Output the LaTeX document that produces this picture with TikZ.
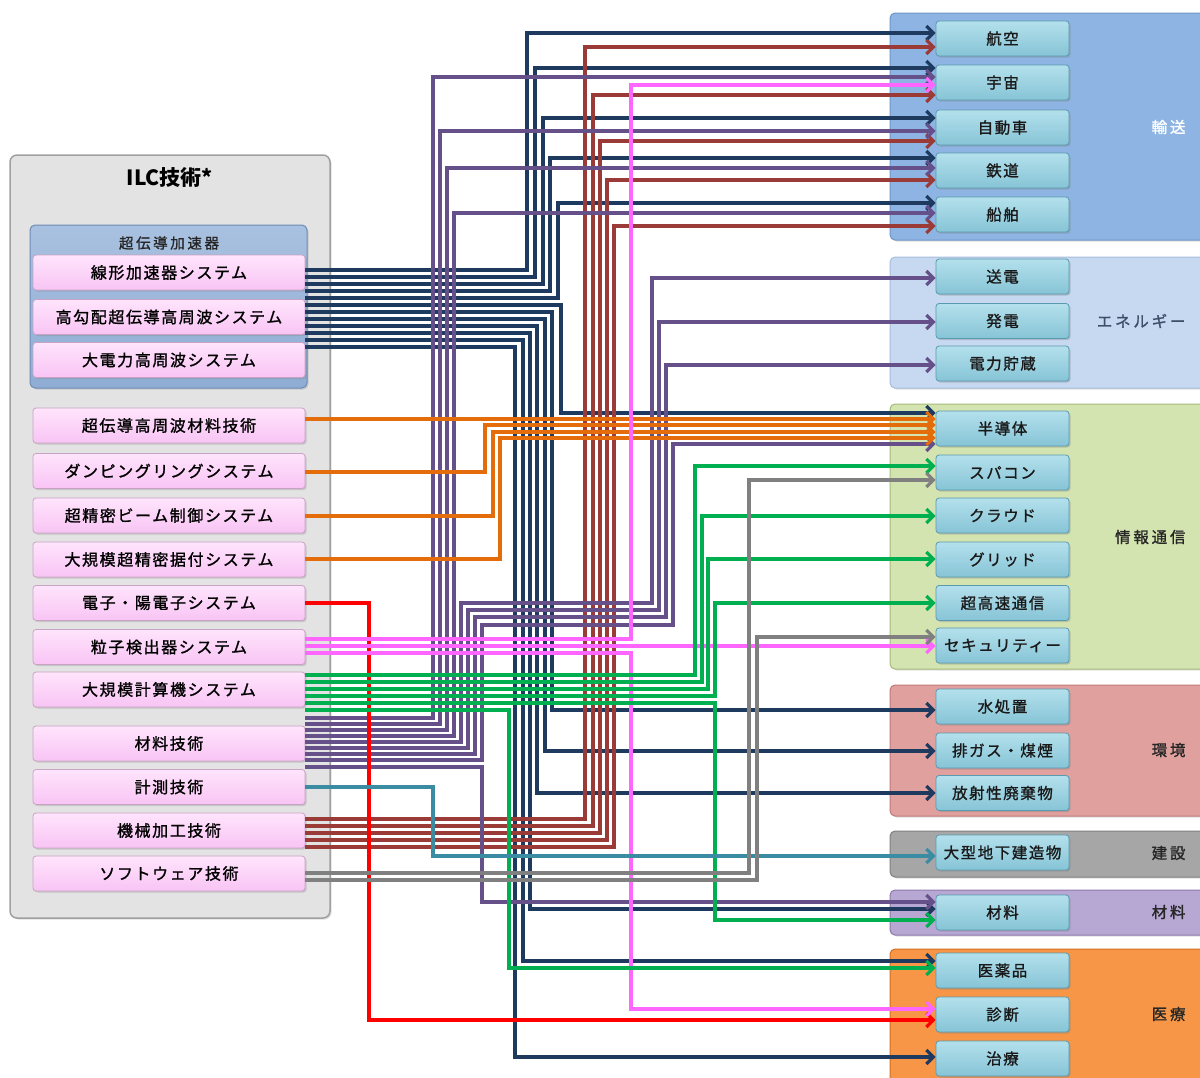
\documentclass[tikz,border=0pt]{standalone}
\usepackage{fontspec}
\newfontfamily\jp[LetterSpace=10,FakeBold=1.2]{Noto Sans CJK JP}
\newfontfamily\jpw[LetterSpace=18,FakeBold=1.2]{Noto Sans CJK JP}
\newfontfamily\jpt{Noto Sans CJK JP}
\usetikzlibrary{arrows.meta,shadows}
\definecolor{cnv}{HTML}{1E3A5F}
\definecolor{cdr}{HTML}{9B3B38}
\definecolor{cpu}{HTML}{65508A}
\definecolor{cor}{HTML}{E46C0A}
\definecolor{cgn}{HTML}{00B050}
\definecolor{cgy}{HTML}{808080}
\definecolor{ctl}{HTML}{3A8CA3}
\definecolor{cmg}{HTML}{FF66FF}
\definecolor{crd}{HTML}{FF0000}
\definecolor{pk1}{HTML}{FFE4FC}
\definecolor{pk2}{HTML}{F8C4F4}
\definecolor{pkb}{HTML}{C9A3C6}
\definecolor{it1}{HTML}{B4E0EC}
\definecolor{it2}{HTML}{86C4D6}
\definecolor{itb}{HTML}{5A9AB0}
\definecolor{g1f}{HTML}{8DB4E2}\definecolor{g1d}{HTML}{6E96C8}
\definecolor{g2f}{HTML}{C6D9F1}\definecolor{g2d}{HTML}{A5BDDC}
\definecolor{g3f}{HTML}{D4E4B0}\definecolor{g3d}{HTML}{A6BB7A}
\definecolor{g4f}{HTML}{E0A09E}\definecolor{g4d}{HTML}{C07A78}
\definecolor{g5f}{HTML}{A6A6A6}\definecolor{g5d}{HTML}{808080}
\definecolor{g6f}{HTML}{B7A7D3}\definecolor{g6d}{HTML}{8E7AAE}
\definecolor{g7f}{HTML}{F79646}\definecolor{g7d}{HTML}{D07020}
\definecolor{lpf}{HTML}{E3E3E3}\definecolor{lpd}{HTML}{A0A0A0}
\definecolor{ac1}{HTML}{A9C1E0}\definecolor{ac2}{HTML}{8FADD4}\definecolor{acd}{HTML}{6D8BB5}
\definecolor{enl}{HTML}{3B4F6B}
\begin{document}
\begin{tikzpicture}[x=1pt,y=-1pt,
  con/.style={line width=3.2pt,-{Straight Barb[length=7pt,width=14pt]}},
  pk/.style={draw=pkb,line width=0.8pt,rounded corners=3pt,top color=pk1,bottom color=pk2,
    minimum width=272pt,minimum height=35pt,inner sep=0pt,text=black,
    font=\jp\fontsize{16}{18}\selectfont,
    drop shadow={opacity=0.3,shadow xshift=1.5pt,shadow yshift=-1.5pt}},
  it/.style={draw=itb,line width=0.8pt,rounded corners=3pt,top color=it1,bottom color=it2,
    minimum width=133pt,minimum height=35pt,inner sep=0pt,text=black!90,
    font=\jp\fontsize{15.5}{17}\selectfont,
    drop shadow={opacity=0.35,shadow xshift=1.5pt,shadow yshift=-1.5pt}},
  grp/.style={line width=1pt,rounded corners=5pt,
    drop shadow={opacity=0.25,shadow xshift=1.5pt,shadow yshift=-1.5pt}},
  glab/.style={anchor=east,font=\jpw\fontsize{15.5}{17}\selectfont,text=black!85}]
\useasboundingbox (0,0) rectangle (1200,1077);
\fill[white] (0,0) rectangle (1200,1077);
% right group backgrounds
\draw[grp,draw=g1d,fill=g1f] (890,13) rectangle (1215,240);
\draw[grp,draw=g2d,fill=g2f] (890,257) rectangle (1215,388);
\draw[grp,draw=g3d,fill=g3f] (890,404) rectangle (1215,669);
\draw[grp,draw=g4d,fill=g4f] (890,685) rectangle (1215,816);
\draw[grp,draw=g5d,fill=g5f] (890,831) rectangle (1215,877);
\draw[grp,draw=g6d,fill=g6f] (890,890) rectangle (1215,935);
\draw[grp,draw=g7d,fill=g7f] (890,949) rectangle (1215,1095);
% left panel
\draw[grp,draw=lpd,fill=lpf,line width=1.5pt,rounded corners=7pt] (10,155) rectangle (330,918);
\node[font=\jpt\bfseries\fontsize{21}{24}\selectfont] (ttl) at (170,178) {ILC技術*};
\draw[grp,draw=acd,top color=ac1,bottom color=ac2] (30,225) rectangle (307,388);
\node[font=\jpw\fontsize{14.5}{16}\selectfont,text=black!85] (acc) at (169,243) {超伝導加速器};
% left boxes
\node[pk] (la) at (169,272.5) {線形加速器システム};
\node[pk] (hk) at (169,317) {高勾配超伝導高周波システム};
\node[pk] (dd) at (169,360) {大電力高周波システム};
\node[pk] (s1) at (169,425.5) {超伝導高周波材料技術};
\node[pk] (s2) at (169,471) {ダンピングリングシステム};
\node[pk] (s3) at (169,515.5) {超精密ビーム制御システム};
\node[pk] (s4) at (169,559.5) {大規模超精密据付システム};
\node[pk] (ep) at (169,603) {電子・陽電子システム};
\node[pk] (pd) at (169,647) {粒子検出器システム};
\node[pk] (cp) at (169,689.5) {大規模計算機システム};
\node[pk] (mt) at (169,743.5) {材料技術};
\node[pk] (ms) at (169,787) {計測技術};
\node[pk] (mc) at (169,830.5) {機械加工技術};
\node[pk] (sw) at (169,873.5) {ソフトウェア技術};
% right items
\node[it] (kk) at (1002.5,38.5) {航空};
\node[it] (uc) at (1002.5,82.5) {宇宙};
\node[it] (jd) at (1002.5,127.5) {自動車};
\node[it] (tt) at (1002.5,170.5) {鉄道};
\node[it] (sp) at (1002.5,214.5) {船舶};
\node[it] (sd) at (1002.5,276.5) {送電};
\node[it] (hd) at (1002.5,321) {発電};
\node[it] (cz) at (1002.5,363.5) {電力貯蔵};
\node[it] (hdt) at (1002.5,428.5) {半導体};
\node[it] (sc) at (1002.5,472.5) {スパコン};
\node[it] (cl) at (1002.5,515.5) {クラウド};
\node[it] (gr) at (1002.5,559.5) {グリッド};
\node[it] (ck) at (1002.5,603) {超高速通信};
\node[it] (se) at (1002.5,645.5) {セキュリティー};
\node[it] (ws) at (1002.5,706.5) {水処置};
\node[it] (hg) at (1002.5,750.5) {排ガス・煤煙};
\node[it] (hs) at (1002.5,793) {放射性廃棄物};
\node[it] (ug) at (1002.5,852.5) {大型地下建造物};
\node[it] (zr) at (1002.5,912.5) {材料};
\node[it] (iy) at (1002.5,970.5) {医薬品};
\node[it] (sn) at (1002.5,1014.5) {診断};
\node[it] (ch) at (1002.5,1058.5) {治療};
% group labels
\node[glab,text=white] (gl1) at (1189,127) {輸送};
\node[glab,text=enl] (gl2) at (1189,321) {エネルギー};
\node[glab] (gl3) at (1189,537) {情報通信};
\node[glab] (gl4) at (1189,750) {環境};
\node[glab] (gl5) at (1189,853) {建設};
\node[glab] (gl6) at (1189,912) {材料};
\node[glab] (gl7) at (1189,1014) {医療};
% navy connectors
\draw[con,cnv] (la.east|-0,270) -| (527,33) -- (kk.west|-0,33);
\draw[con,cnv] (la.east|-0,277) -| (535,68) -- (uc.west|-0,68);
\draw[con,cnv] (la.east|-0,284) -| (543,118) -- (jd.west|-0,118);
\draw[con,cnv] (la.east|-0,291) -| (550,158) -- (tt.west|-0,158);
\draw[con,cnv] (hk.east|-0,298) -| (558,203) -- (sp.west|-0,203);
\draw[con,cnv] (hk.east|-0,305) -| (561,413) -- (hdt.west|-0,413);
\draw[con,cnv] (hk.east|-0,312) -| (552,710) -- (ws.west|-0,710);
\draw[con,cnv] (hk.east|-0,319) -| (545,751) -- (hg.west|-0,751);
\draw[con,cnv] (hk.east|-0,326) -| (537,793) -- (hs.west|-0,793);
\draw[con,cnv] (hk.east|-0,333) -| (530,909) -- (zr.west|-0,909);
\draw[con,cnv] (dd.east|-0,340) -| (523,961) -- (iy.west|-0,961);
\draw[con,cnv] (dd.east|-0,347) -| (515,1057) -- (ch.west|-0,1057);
% dark red connectors
\draw[con,cdr] (mc.east|-0,819) -| (585,47) -- (kk.west|-0,47);
\draw[con,cdr] (mc.east|-0,826) -| (593,95) -- (uc.west|-0,95);
\draw[con,cdr] (mc.east|-0,833) -| (600,141) -- (jd.west|-0,141);
\draw[con,cdr] (mc.east|-0,840) -| (607,180) -- (tt.west|-0,180);
\draw[con,cdr] (mc.east|-0,847) -| (614,226) -- (sp.west|-0,226);
% purple connectors
\draw[con,cpu] (mt.east|-0,718) -| (433,77) -- (uc.west|-0,77);
\draw[con,cpu] (mt.east|-0,724) -| (440,131) -- (jd.west|-0,131);
\draw[con,cpu] (mt.east|-0,730) -| (447,168) -- (tt.west|-0,168);
\draw[con,cpu] (mt.east|-0,736) -| (454,213) -- (sp.west|-0,213);
\draw[con,cpu] (mt.east|-0,742) -| (461,603) -| (652,278) -- (sd.west|-0,278);
\draw[con,cpu] (mt.east|-0,748) -| (468,610) -| (659,322) -- (hd.west|-0,322);
\draw[con,cpu] (mt.east|-0,754) -| (475,617) -| (666,365) -- (cz.west|-0,365);
\draw[con,cpu] (mt.east|-0,760) -| (482,625) -| (673,444) -- (hdt.west|-0,444);
\draw[con,cpu] (mt.east|-0,767) -| (482,902) -- (zr.west|-0,902);
% orange connectors
\draw[con,cor] (s1.east|-0,419) -- (hdt.west|-0,419);
\draw[con,cor] (s2.east|-0,472) -| (485,425) -- (hdt.west|-0,425);
\draw[con,cor] (s3.east|-0,516) -| (493,432) -- (hdt.west|-0,432);
\draw[con,cor] (s4.east|-0,559) -| (500,438) -- (hdt.west|-0,438);
% red
\draw[con,crd] (ep.east|-0,603) -| (369,1020) -- (sn.west|-0,1020);
% magenta
\draw[con,cmg] (pd.east|-0,639) -| (631,85) -- (uc.west|-0,85);
\draw[con,cmg] (pd.east|-0,646) -- (se.west|-0,646);
\draw[con,cmg] (pd.east|-0,653) -| (631,1009) -- (sn.west|-0,1009);
% green
\draw[con,cgn] (cp.east|-0,675) -| (695,466) -- (sc.west|-0,466);
\draw[con,cgn] (cp.east|-0,682) -| (702,516) -- (cl.west|-0,516);
\draw[con,cgn] (cp.east|-0,689) -| (708,559) -- (gr.west|-0,559);
\draw[con,cgn] (cp.east|-0,696) -| (715,603) -- (ck.west|-0,603);
\draw[con,cgn] (cp.east|-0,703) -| (715,920) -- (zr.west|-0,920);
\draw[con,cgn] (cp.east|-0,710) -| (509,968) -- (iy.west|-0,968);
% teal
\draw[con,ctl] (ms.east|-0,787) -| (433,856) -- (ug.west|-0,856);
% gray
\draw[con,cgy] (sw.east|-0,873) -| (749,480) -- (sc.west|-0,480);
\draw[con,cgy] (sw.east|-0,880) -| (757,637) -- (se.west|-0,637);
\end{tikzpicture}
\end{document}
